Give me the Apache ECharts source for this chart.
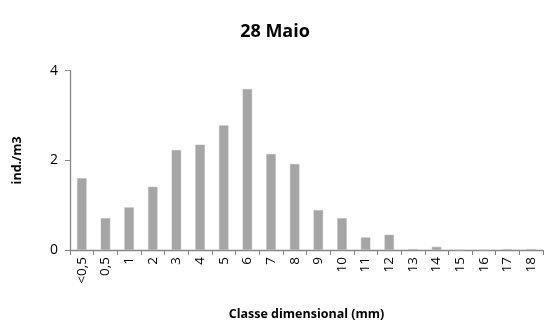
<!DOCTYPE html>
<html><head><meta charset="utf-8">
<script src="https://cdn.jsdelivr.net/npm/echarts@6/dist/echarts.min.js"></script>
<style>html,body{margin:0;padding:0;background:#fff}#c{width:550px;height:329px}</style>
</head><body><div id="c"></div>
<script>
const categories = ["<0,5","0,5","1","2","3","4","5","6","7","8","9","10","11","12","13","14","15","16","17","18"];
const values = [1.60,0.71,0.95,1.41,2.23,2.35,2.78,3.59,2.14,1.92,0.89,0.71,0.28,0.34,0.02,0.07,0,0,0.02,0.02];
const yTicks = [0,2,4];
const font = "'Open Sans', 'Liberation Sans', sans-serif";
const chart = echarts.init(document.getElementById('c'));
chart.setOption({
  animation:false,
  title:{text:'28 Maio',left:'center',top:18,textStyle:{fontFamily:font,fontWeight:'bold',fontSize:18,color:'#000'}},
  grid:{left:70,right:7,top:70.7,bottom:79,containLabel:false,outerBoundsMode:'none'},
  xAxis:{type:'category',data:categories,
    name:'Classe dimensional (mm)',nameLocation:'middle',nameGap:58,
    nameTextStyle:{fontFamily:font,fontWeight:'bold',fontSize:12.5,color:'#000'},
    axisLine:{lineStyle:{color:'#868686',width:1.3}},
    axisTick:{show:true,alignWithLabel:false,length:5,lineStyle:{color:'#868686'}},
    axisLabel:{rotate:90,fontFamily:font,fontSize:13.5,color:'#000',margin:7,interval:0}},
  yAxis:{type:'value',min:yTicks[0],max:yTicks[yTicks.length-1],interval:2,
    name:'ind./m3',nameLocation:'middle',nameGap:46,
    nameTextStyle:{fontFamily:font,fontWeight:'bold',fontSize:12.5,color:'#000'},
    axisLine:{show:true,lineStyle:{color:'#868686',width:1.3}},
    axisTick:{show:true,length:5,lineStyle:{color:'#868686'}},
    splitLine:{show:false},
    axisLabel:{fontFamily:font,fontSize:14,color:'#000',margin:12}},
  series:[{type:'bar',data:values,barWidth:'40%',
    itemStyle:{color:'#a5a5a5',borderColor:'#b8b8b8',borderWidth:0.5}}]
});
</script></body></html>
